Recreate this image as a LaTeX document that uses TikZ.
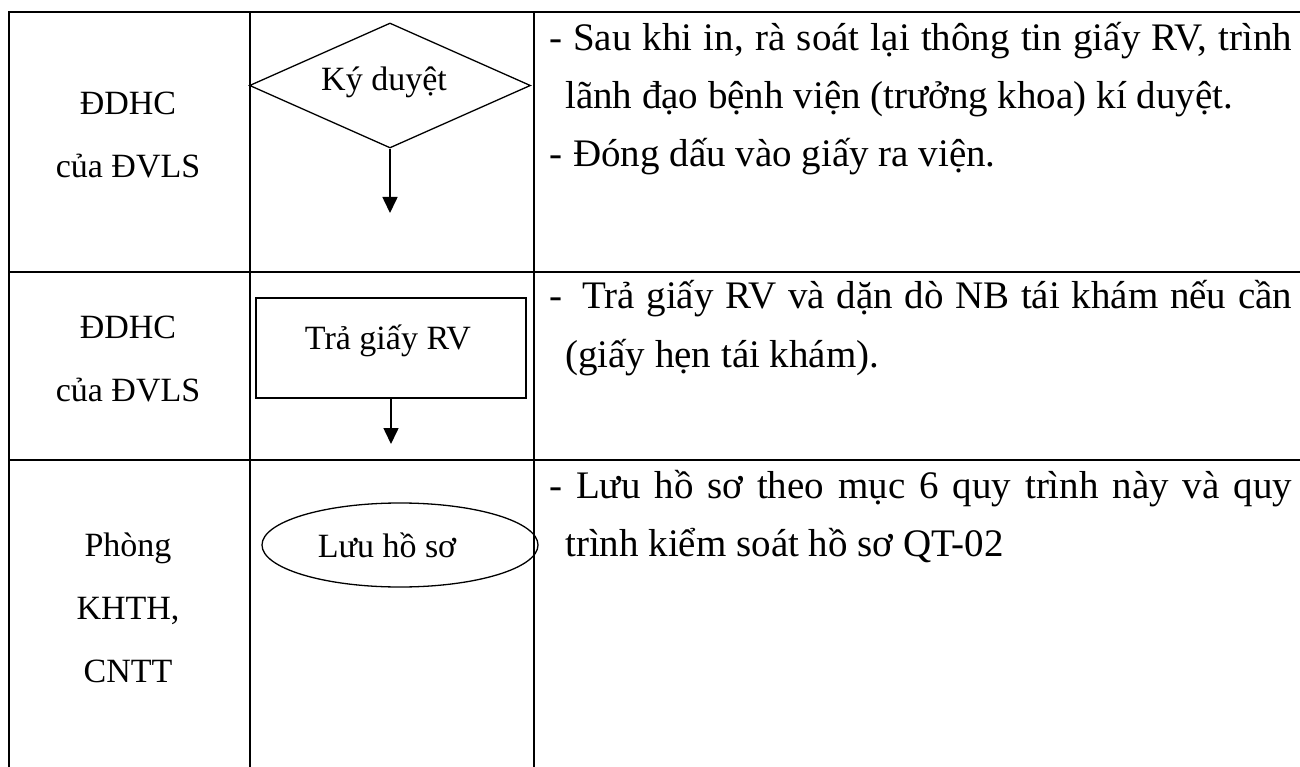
\documentclass[tikz,border=0pt]{standalone}
\usepackage{fontspec}
\setmainfont{Liberation Serif}
\usetikzlibrary{arrows.meta,shapes.geometric}

\begin{document}
\begin{tikzpicture}[x=1pt,y=-1pt,
  gridline/.style={line width=2pt},
  outline/.style={draw, line width=1.3pt, inner sep=0pt},
  flow/.style={line width=1.6pt, -{Triangle[length=16pt,width=15pt]}},
  lane/.style={font=\fontsize{34}{63}\selectfont, align=center, inner sep=0pt},
  boxtext/.style={font=\fontsize{34}{34}\selectfont, inner sep=0pt},
  body/.style={font=\fontsize{39}{39}\selectfont, anchor=base west, inner sep=0pt}
]
\useasboundingbox (0,0) rectangle (1300,767);

% table rules
\draw[gridline] (1302,12.3) -- (8.7,12.3) -- (8.7,770);
\draw[gridline] (250,12.3) -- (250,770);
\draw[gridline] (534,12.3) -- (534,770);
\draw[gridline] (8.7,271.5) -- (1302,271.5);
\draw[gridline] (8.7,460) -- (1302,460);

% who
\node[lane] (who1) at (128,135) {ĐDHC\\của ĐVLS};
\node[lane] (who2) at (128,359) {ĐDHC\\của ĐVLS};
\node[lane] (who3) at (128,608) {Phòng\\KHTH,\\CNTT};

% flow
\node[outline, diamond, minimum width=281pt, minimum height=125pt] (sign) at (390,85.5) {};
\node[boxtext] (signtxt) at (384,82) {Ký duyệt};
\coordinate (signout) at (390,213);
\draw[flow] (sign.south) -- (signout);

\node[outline, rectangle, minimum width=270pt, minimum height=100pt] (give) at (391,348) {};
\node[boxtext] (givetxt) at (388,341) {Trả giấy RV};
\coordinate (giveout) at (391,444);
\draw[flow] (give.south) -- (giveout);

\node[outline, ellipse, minimum width=276pt, minimum height=84pt] (archive) at (400,545) {};
\node[boxtext] (archivetxt) at (387,545) {Lưu hồ sơ};

% descriptions
\node[body] (d1a) at (549,51) {\makebox[743pt][s]{- Sau khi in, rà soát lại thông tin giấy RV, trình}};
\node[body] (d1b) at (565,109) {lãnh đạo bệnh viện (trưởng khoa) kí duyệt.};
\node[body] (d1c) at (549,167) {-\hspace{11pt}Đóng dấu vào giấy ra viện.};
\node[body] (d2a) at (549,308) {\makebox[743pt][s]{-\hspace{20pt}Trả giấy RV và dặn dò NB tái khám nếu cần}};
\node[body] (d2b) at (565,367) {(giấy hẹn tái khám).};
\node[body] (d3a) at (549,498) {\makebox[743pt][s]{- Lưu hồ sơ theo mục 6 quy trình này và quy}};
\node[body] (d3b) at (565,556) {trình kiểm soát hồ sơ QT-02};
\end{tikzpicture}
\end{document}
